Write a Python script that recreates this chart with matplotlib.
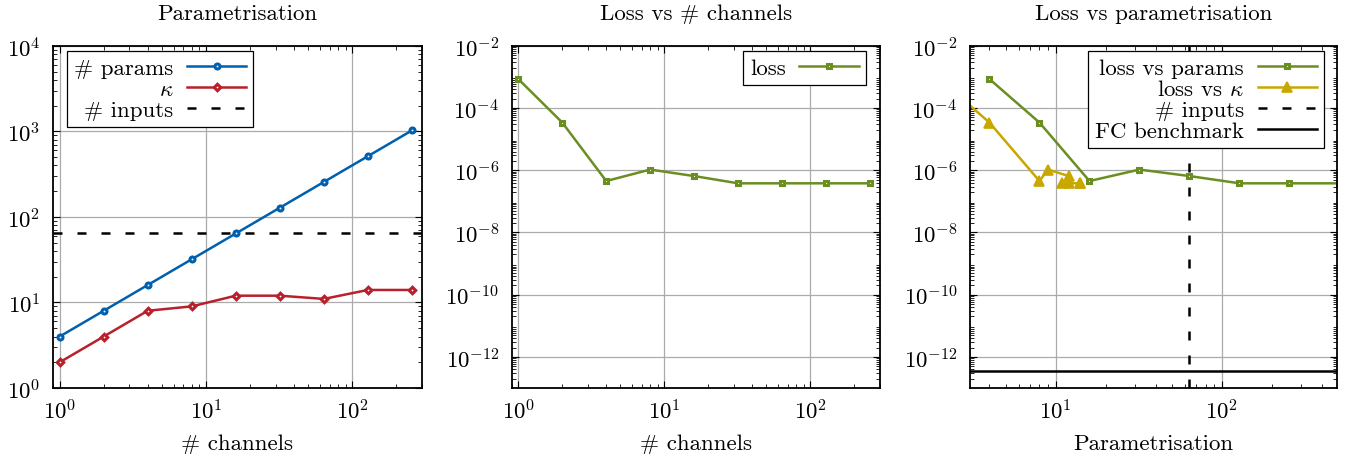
import numpy as np
import matplotlib
matplotlib.use("Agg")
import matplotlib.pyplot as plt
from matplotlib.ticker import LogLocator, NullFormatter

plt.rcParams["font.family"] = ["cmr10", "DejaVu Serif"]
plt.rcParams["mathtext.fontset"] = "cm"
plt.rcParams["axes.formatter.use_mathtext"] = True
FS = 16.5
plt.rcParams["font.size"] = FS

# data
channels = [1, 2, 4, 8, 16, 32, 64, 128, 256]
n_params = [4, 8, 16, 32, 64, 128, 256, 512, 1024]
kappa = [2, 4, 8, 9, 12, 12, 11, 14, 14]
n_inputs = 64
loss = [8.5e-4, 3.4e-5, 4.5e-7, 1.05e-6, 6.5e-7, 3.8e-7, 3.8e-7, 3.8e-7, 3.8e-7]
fc_benchmark = 3.4e-13

BLUE = "#0060ad"
RED = "#b8202c"
GREEN = "#6b8e23"
YELLOW = "#c8a800"
LW = 1.8
DASH = (0, (3.6, 6.0))

fig = plt.figure(figsize=(13.49, 4.60), dpi=100)
ax1 = fig.add_axes([0.0393, 0.1543, 0.2735, 0.744])
ax2 = fig.add_axes([0.3793, 0.1543, 0.2730, 0.744])
ax3 = fig.add_axes([0.7190, 0.1543, 0.2721, 0.744])


def style(ax):
    ax.set_xscale("log")
    ax.set_yscale("log")
    ax.grid(True, which="major", color="#ababab", lw=0.9)
    ax.set_axisbelow(True)
    ax.tick_params(which="both", direction="in", top=True, right=True,
                   labelsize=FS)
    ax.tick_params(axis="x", which="major", pad=7)
    ax.tick_params(axis="y", which="major", pad=9)
    ax.tick_params(which="major", length=5, width=0.8)
    ax.tick_params(which="minor", length=3, width=0.6)
    ax.xaxis.set_minor_locator(LogLocator(base=10, subs=np.arange(2, 10), numticks=50))
    ax.xaxis.set_minor_formatter(NullFormatter())
    ax.yaxis.set_minor_locator(LogLocator(base=10, subs=np.arange(2, 10), numticks=50))
    ax.yaxis.set_minor_formatter(NullFormatter())
    for s in ax.spines.values():
        s.set_linewidth(1.3)


def legend(ax, loc, anchor):
    lg = ax.legend(loc=loc, bbox_to_anchor=anchor, markerfirst=False,
                   fancybox=False, framealpha=1, edgecolor="black",
                   fontsize=FS, handlelength=2.6, borderpad=0.3,
                   labelspacing=0.05, handletextpad=0.6, borderaxespad=0)
    lg.get_frame().set_linewidth(0.9)
    lg._legend_box.align = "right"
    return lg


sq = dict(marker="s", ms=3.2, mew=2.2, mfc="white")

# Panel 1: parametrisation
style(ax1)
ax1.plot(channels, n_params, color=BLUE, lw=LW, marker="o", ms=3.6,
         mfc="white", mec=BLUE, mew=2.2, label="# params")
ax1.plot(channels, kappa, color=RED, lw=LW, marker="D", ms=3.3,
         mfc="white", mec=RED, mew=2.2, label=r"$\kappa$")
ax1.axhline(n_inputs, color="black", lw=LW, ls=DASH, label="# inputs")
ax1.set_xlim(0.9, 300)
ax1.set_ylim(1, 1e4)
ax1.yaxis.set_major_locator(LogLocator(base=10, numticks=20))
ax1.set_title("Parametrisation", fontsize=FS, pad=19)
ax1.set_xlabel("# channels", fontsize=FS, labelpad=8)
legend(ax1, "upper left", (0.038, 0.985))

# Panel 2: loss vs channels
style(ax2)
ax2.plot(channels, loss, color=GREEN, lw=LW, mec=GREEN, label="loss", **sq)
ax2.set_xlim(0.9, 300)
ax2.set_ylim(1e-13, 1e-2)
ax2.yaxis.set_major_locator(LogLocator(base=100, numticks=20))
ax2.set_title("Loss vs # channels", fontsize=FS, pad=19)
ax2.set_xlabel("# channels", fontsize=FS, labelpad=8)
legend(ax2, "upper right", (0.962, 0.985))

# Panel 3: loss vs parametrisation
style(ax3)
ax3.plot(n_params, loss, color=GREEN, lw=LW, mec=GREEN,
         label="loss vs params", **sq)
ax3.plot(kappa, loss, color=YELLOW, lw=LW, marker="^", ms=6.5,
         mfc=YELLOW, mec=YELLOW, mew=1.2, label=r"loss vs $\kappa$")
ax3.axvline(n_inputs, color="black", lw=LW, ls=DASH, label="# inputs")
ax3.axhline(fc_benchmark, color="black", lw=LW, label="FC benchmark")
ax3.set_xlim(3.05, 495)
ax3.set_ylim(1e-13, 1e-2)
ax3.yaxis.set_major_locator(LogLocator(base=100, numticks=20))
ax3.set_title("Loss vs parametrisation", fontsize=FS, pad=19)
ax3.set_xlabel("Parametrisation", fontsize=FS, labelpad=8)
legend(ax3, "upper right", (0.965, 0.985))

fig.savefig("out.png", dpi=100)
